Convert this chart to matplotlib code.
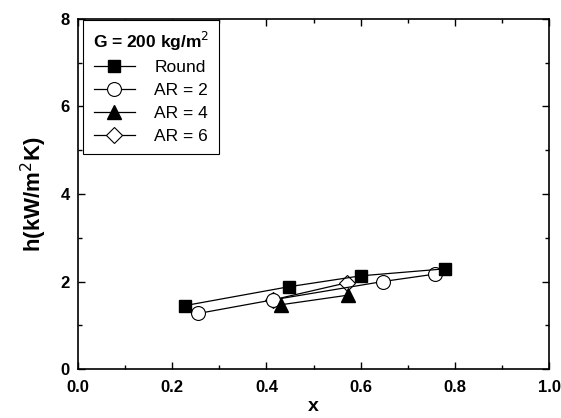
import matplotlib
matplotlib.use("Agg")
import matplotlib.pyplot as plt
from matplotlib.ticker import MultipleLocator

plt.rcParams['font.family'] = ['Liberation Sans', 'DejaVu Sans']

# data
round_x = [0.227, 0.447, 0.600, 0.779]
round_h = [1.45, 1.88, 2.13, 2.29]
ar2_x = [0.255, 0.413, 0.647, 0.758]
ar2_h = [1.27, 1.58, 2.00, 2.17]
ar4_x = [0.431, 0.574]
ar4_h = [1.47, 1.69]
ar6_x = [0.413, 0.570]
ar6_h = [1.58, 1.97]

fig = plt.figure(figsize=(5.61, 4.18), dpi=100)
ax = fig.add_axes([0.139, 0.117, 0.840, 0.838])

ms = 9
ax.plot(round_x, round_h, color='black', lw=0.9, marker='s', ms=ms,
        mfc='black', mec='black', label='Round', zorder=5)
ax.plot(ar2_x, ar2_h, color='black', lw=0.9, marker='o', ms=ms + 1,
        mfc='white', mec='black', mew=0.8, label='AR = 2', zorder=3)
ax.plot(ar4_x, ar4_h, color='black', lw=0.9, marker='^', ms=ms + 1,
        mfc='black', mec='black', label='AR = 4', zorder=4)
ax.plot(ar6_x, ar6_h, color='black', lw=0.9, marker='D', ms=ms - 1,
        mfc='white', mec='black', mew=0.8, label='AR = 6', zorder=2)

ax.set_xlim(0, 1.0)
ax.set_ylim(0, 8)
ax.xaxis.set_major_locator(MultipleLocator(0.2))
ax.xaxis.set_minor_locator(MultipleLocator(0.1))
ax.yaxis.set_major_locator(MultipleLocator(2))
ax.yaxis.set_minor_locator(MultipleLocator(1))
ax.set_xticklabels([f"{v:.1f}" for v in ax.get_xticks()])
ax.tick_params(which='both', direction='in', top=True, right=True,
               labelsize=12, width=1)
ax.tick_params(which='major', length=5)
ax.tick_params(which='minor', length=3)
ax.tick_params(axis='x', pad=8)
ax.tick_params(axis='y', pad=6)
for lab in ax.get_xticklabels() + ax.get_yticklabels():
    lab.set_fontweight('bold')
for sp in ax.spines.values():
    sp.set_linewidth(1.2)

ax.set_xlabel('x', fontsize=14, fontweight='bold', labelpad=2)
ax.set_ylabel('h(kW/m$^2$K)', fontsize=16, fontweight='bold', labelpad=8)

leg = ax.legend(loc='upper left', bbox_to_anchor=(0.011, 0.997),
                borderaxespad=0, fontsize=12.5, handlelength=2.4,
                title='G = 200 kg/m$^2$', fancybox=False, framealpha=1,
                edgecolor='black', labelspacing=0.45, handletextpad=1.1,
                borderpad=0.55)
leg.get_title().set_fontweight('bold')
leg.get_title().set_fontsize(12.5)
leg.get_frame().set_linewidth(0.8)

fig.savefig('out.png', dpi=100)
